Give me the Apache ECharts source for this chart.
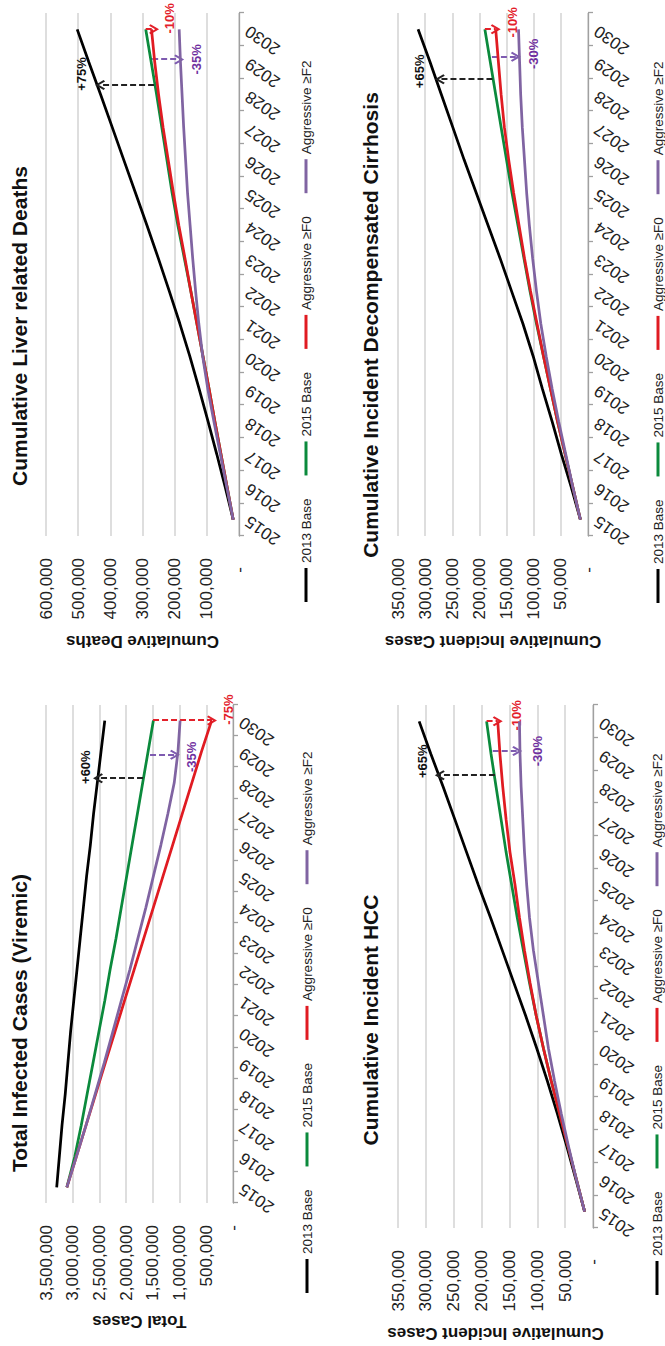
<!DOCTYPE html>
<html>
<head>
<meta charset="utf-8">
<script src="https://cdn.jsdelivr.net/npm/echarts@6/dist/echarts.min.js"></script>
<style>
  html, body { margin: 0; padding: 0; background: #fff; width: 665px; height: 1346px; overflow: hidden; }
  /* the landscape sheet of four panels, turned a quarter turn onto the portrait page */
  #sheet { position: absolute; left: 0; top: 0; width: 1346px; height: 665px;
           transform-origin: 0 0; transform: translate(0, 1346px) rotate(-90deg); background: #fff; }
</style>
</head>
<body>
<div id="sheet"></div>
<script>
// ---- data ----
const years = ['2015','2016','2017','2018','2019','2020','2021','2022','2023','2024','2025','2026','2027','2028','2029','2030'];
const scenarioNames = ['2013 Base', '2015 Base', 'Aggressive \u2265F0', 'Aggressive \u2265F2'];

// Total infected cases (viremic)
const infected2013 = [3300000, 3250000, 3200000, 3140000, 3090000, 3040000, 2980000, 2920000, 2860000, 2800000, 2740000, 2670000, 2610000, 2540000, 2470000, 2400000];
const infected2015 = [3110000, 2960000, 2840000, 2730000, 2620000, 2510000, 2400000, 2300000, 2190000, 2090000, 1990000, 1890000, 1790000, 1690000, 1590000, 1490000];
const infectedF0   = [3110000, 2930000, 2750000, 2570000, 2390000, 2210000, 2030000, 1850000, 1670000, 1490000, 1310000, 1130000, 950000, 770000, 590000, 400000];
const infectedF2   = [3110000, 2930000, 2750000, 2580000, 2410000, 2250000, 2090000, 1930000, 1780000, 1630000, 1490000, 1350000, 1220000, 1100000, 1030000, 990000];
// arrows: [year position (0 = 2015), from value, to value, label]
const infectedArrows = [[13.15, 1684000, 2527000, '+60%'], [13.9, 1553000, 1086000, '-35%'], [15, 1497000, 393000, '-75%']];

// Cumulative liver related deaths
const deaths2013 = [18000, 43000, 69000, 96000, 124000, 153000, 184000, 217000, 251000, 286000, 322000, 358000, 394000, 430000, 467000, 503000];
const deaths2015 = [18000, 37000, 56000, 75000, 93000, 112000, 131000, 150000, 170000, 190000, 208000, 224000, 240000, 256000, 273000, 290000];
const deathsF0   = [18000, 37000, 56000, 75000, 93000, 112000, 131000, 150000, 168000, 187000, 204000, 220000, 236000, 250000, 262000, 272000];
const deathsF2   = [18000, 38000, 58000, 78000, 97000, 113000, 125000, 135000, 144000, 152000, 160000, 166000, 172000, 177000, 182000, 186000];
const deathsArrows = [[13.3, 264000, 432000, '+75%'], [14.08, 270000, 186000, '-35%'], [15, 290000, 264000, '-10%']];

// Cumulative incident HCC
const hcc2013 = [15000, 31000, 47000, 64000, 82000, 101000, 121000, 142000, 163000, 184000, 206000, 227000, 248000, 269000, 291000, 312000];
const hcc2015 = [15000, 30000, 45000, 60000, 75000, 89000, 102000, 114000, 125000, 136000, 146000, 156000, 165000, 174000, 183000, 191000];
const hccF0   = [15000, 30000, 45000, 60000, 75000, 89000, 102000, 113000, 123000, 132000, 140000, 149000, 156000, 162000, 167000, 171000];
const hccF2   = [15000, 30000, 44000, 57000, 69000, 80000, 89000, 98000, 107000, 114000, 119000, 123000, 126000, 129000, 131000, 132000];
const hccArrows = [[13.35, 176000, 275000, '+65%'], [14.09, 180000, 136000, '-30%'], [15, 191000, 171000, '-10%']];

// Cumulative incident decompensated cirrhosis
const cirr2013 = [14000, 31000, 49000, 66000, 84000, 101000, 120000, 141000, 162000, 184000, 206000, 228000, 249000, 270000, 291000, 313000];
const cirr2015 = [14000, 28000, 42000, 56000, 69000, 82000, 95000, 107000, 118000, 129000, 140000, 150000, 160000, 170000, 180000, 190000];
const cirrF0   = [14000, 28000, 42000, 56000, 69000, 82000, 94000, 106000, 117000, 127000, 137000, 146000, 154000, 160000, 165000, 170000];
const cirrF2   = [14000, 28000, 41000, 54000, 66000, 77000, 87000, 95000, 102000, 108000, 113000, 117000, 121000, 124000, 126000, 128000];
const cirrArrows = [[13.47, 176000, 273000, '+65%'], [14.16, 177000, 133000, '-30%'], [15, 190000, 170000, '-10%']];

// ---- styling & layout ----
const FONT = '"Liberation Sans", Arial, Helvetica, sans-serif';
const lineColors  = ['#000000', '#0b8a3c', '#e01b22', '#8064a2'];
const arrowColors = ['#222222', '#7e5bb0', '#e3202a'];
const noteColors  = ['#111111', '#7030a0', '#e3202a'];
// open chevron arrowhead, tip pointing up in its own box
const chevron = 'path://M5,0 L10,8.6 L8.5,10 L5,3.9 L1.5,10 L0,8.6 Z';

const panels = [
  { title: 'Total Infected Cases (Viremic)', yName: 'Total Cases',
    lines: [infected2013, infected2015, infectedF0, infectedF2], arrows: infectedArrows,
    max: 3500000, interval: 500000,
    grid: { left: 143, top: 46, width: 498, height: 187 },
    titleAt: [323, 19], legendAt: [53, 300], nameGap: 110, zeroPad: 0,
    noteOffsets: [[11, -12], [-2, 17], [11, 16]] },
  { title: 'Cumulative Liver related Deaths', yName: 'Cumulative Deaths',
    lines: [deaths2013, deaths2015, deathsF0, deathsF2], arrows: deathsArrows,
    max: 600000, interval: 100000,
    grid: { left: 810, top: 46, width: 523, height: 193 },
    titleAt: [1020, 19], legendAt: [744, 299], nameGap: 97, zeroPad: 9,
    noteOffsets: [[11, -19], [0, 17], [11, 15]] },
  { title: 'Cumulative Incident HCC', yName: 'Cumulative Incident Cases',
    lines: [hcc2013, hcc2015, hccF0, hccF2], arrows: hccArrows,
    max: 350000, interval: 50000,
    grid: { left: 118, top: 398, width: 523, height: 195 },
    titleAt: [326, 370], legendAt: [51, 650], nameGap: 97, zeroPad: 9,
    noteOffsets: [[14, -17], [0, 20], [6, 19]] },
  { title: 'Cumulative Incident Decompensated Cirrhosis', yName: 'Cumulative Incident Cases',
    lines: [cirr2013, cirr2015, cirrF0, cirrF2], arrows: cirrArrows,
    max: 350000, interval: 50000,
    grid: { left: 810, top: 398, width: 523, height: 190 },
    titleAt: [1021, 370], legendAt: [743, 651], nameGap: 97, zeroPad: 9,
    noteOffsets: [[8, -20], [3, 18], [7, 17]] }
];

function withCommas(v) {
  return String(Math.round(v)).replace(/\B(?=(\d{3})+(?!\d))/g, ',');
}

const option = {
  animation: false,
  backgroundColor: '#ffffff',
  textStyle: { fontFamily: FONT },
  grid: panels.map(p => Object.assign({ containLabel: false }, p.grid)),
  xAxis: [
    ...panels.map((p, i) => ({
      type: 'category', gridIndex: i, data: years, boundaryGap: true,
      axisLine: { show: true, lineStyle: { color: '#a0a0a0', width: 1.3 } },
      axisTick: { show: true, length: 5, lineStyle: { color: '#a0a0a0', width: 1.3 } },
      axisLabel: { interval: 0, rotate: 55, margin: 8, fontSize: 17, color: '#222', fontFamily: FONT },
      splitLine: { show: false }
    })),
    // hidden continuous axes sharing each plot, used to place the comparison arrows
    ...panels.map((p, i) => ({ type: 'value', gridIndex: i, min: -0.5, max: 15.5, show: false }))
  ],
  yAxis: panels.map((p, i) => ({
    type: 'value', gridIndex: i, min: 0, max: p.max, interval: p.interval,
    name: p.yName, nameLocation: 'middle', nameGap: p.nameGap, nameRotate: 90,
    nameTextStyle: { fontSize: 17, fontWeight: 'bold', color: '#111', fontFamily: FONT },
    axisLine: { show: false }, axisTick: { show: false },
    splitLine: { show: true, lineStyle: { color: '#d3d3d3', width: 1.5 } },
    axisLabel: {
      margin: 22, fontSize: 17, color: '#222', fontFamily: FONT,
      formatter: v => v === 0 ? '{z|-}' : withCommas(v),
      rich: { z: { fontSize: 17, color: '#222', fontFamily: FONT, padding: [0, p.zeroPad, 0, 0] } }
    }
  })),
  legend: panels.map(p => ({
    left: p.legendAt[0], top: p.legendAt[1], orient: 'horizontal', padding: 0,
    icon: 'rect', itemWidth: 34, itemHeight: 3, itemGap: 23, selectedMode: false,
    textStyle: { fontSize: 13.5, color: '#222', fontFamily: FONT },
    data: scenarioNames
  })),
  graphic: panels.map(p => ({
    type: 'text', x: p.titleAt[0], y: p.titleAt[1], silent: true,
    style: { text: p.title, fontSize: 21, fontWeight: 'bold', fill: '#111', fontFamily: FONT,
             align: 'center', verticalAlign: 'middle' }
  })),
  series: []
};

panels.forEach((p, i) => {
  p.lines.forEach((vals, k) => {
    option.series.push({
      type: 'line', name: scenarioNames[k], xAxisIndex: i, yAxisIndex: i,
      data: vals, symbol: 'none', smooth: false, silent: true,
      lineStyle: { color: lineColors[k], width: 2.75 },
      itemStyle: { color: lineColors[k] },
      z: 3 + k
    });
  });
  option.series.push({
    type: 'line', name: 'comparison', xAxisIndex: panels.length + i, yAxisIndex: i,
    data: [], silent: true, z: 10,
    markLine: {
      silent: true, symbol: ['none', chevron], symbolSize: 10,
      label: { show: false },
      data: p.arrows.map((a, k) => [
        { coord: [a[0], a[1]], lineStyle: { color: arrowColors[k], type: [6, 3], width: 2 },
          itemStyle: { color: arrowColors[k] } },
        { coord: [a[0], a[2]] }
      ])
    },
    markPoint: {
      silent: true, symbol: 'circle', symbolSize: 0,
      label: { show: true, formatter: '{b}', fontSize: 13, fontWeight: 'bold', fontFamily: FONT },
      data: p.arrows.map((a, k) => ({
        name: a[3], coord: [a[0], a[2]],
        label: { offset: p.noteOffsets[k], color: noteColors[k] }
      }))
    }
  });
});

const chart = echarts.init(document.getElementById('sheet'), null, { renderer: 'svg', width: 1346, height: 665 });
chart.setOption(option);
</script>
</body>
</html>
